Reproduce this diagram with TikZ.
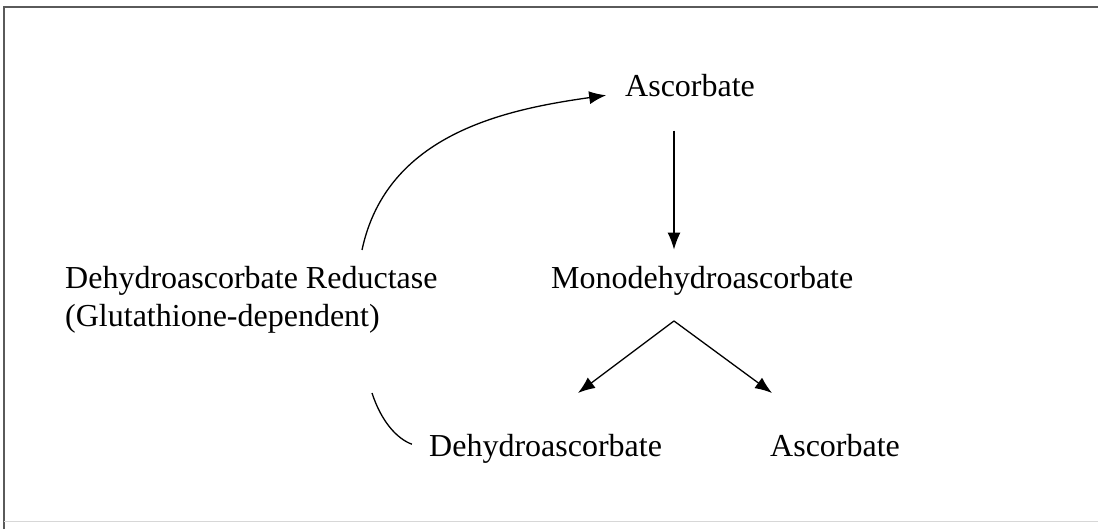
\documentclass[tikz,border=0pt]{standalone}
\usepackage{fontspec}
\setmainfont{Liberation Serif}
\usetikzlibrary{arrows.meta}

\tikzset{
    chem/.style={anchor=base west, inner sep=3pt, font=\fontsize{32}{38}\selectfont},
    react/.style={line width=1.3pt, -{Latex[length=17pt,width=13pt]}},
}

\begin{document}
\begin{tikzpicture}[x=1pt,y=1pt]

    % Define colors
    \definecolor{framegray}{RGB}{90,90,90}
    \definecolor{faintgray}{RGB}{215,215,215}

    \useasboundingbox (0,0) rectangle (1098,529);

    % Frame
    \draw[framegray, line width=2pt] (4,0) -- (4,522) -- (1098,522);
    \draw[faintgray, line width=1pt] (4,7) -- (1098,7);

    %-------------
    % Compounds
    \node[chem] (asc) at (622,432) {Ascorbate};
    \node[chem] (mono) at (548,240) {Monodehydroascorbate};
    \node[chem] (dha) at (426,72) {Dehydroascorbate};
    \node[chem] (asctwo) at (767,72) {Ascorbate};
    \node[chem, align=left] (dhar) at (62,202)
        {Dehydroascorbate Reductase\\(Glutathione-dependent)};

    %-------------
    % Free ends
    \coordinate (split) at (674,208);
    \coordinate (tipl) at (578,136);
    \coordinate (tipr) at (772,136);
    \coordinate (recstart) at (362,279);
    \coordinate (dhastart) at (372,136);

    %-------------
    % Oxidation
    \draw[react, shorten <=30pt, shorten >=14pt] (asc.south -| split) -- (mono.north -| split);
    \draw[react] (split) -- (tipl);
    \draw[react] (split) -- (tipr);

    %-------------
    % Recycling
    \draw[react, shorten >=16pt] (recstart) to[out=78,in=188] ([yshift=-7pt]asc.west);
    \draw[line width=1.3pt, shorten >=15pt] (dhastart) to[out=-72,in=160] (dha.west);

\end{tikzpicture}
\end{document}
